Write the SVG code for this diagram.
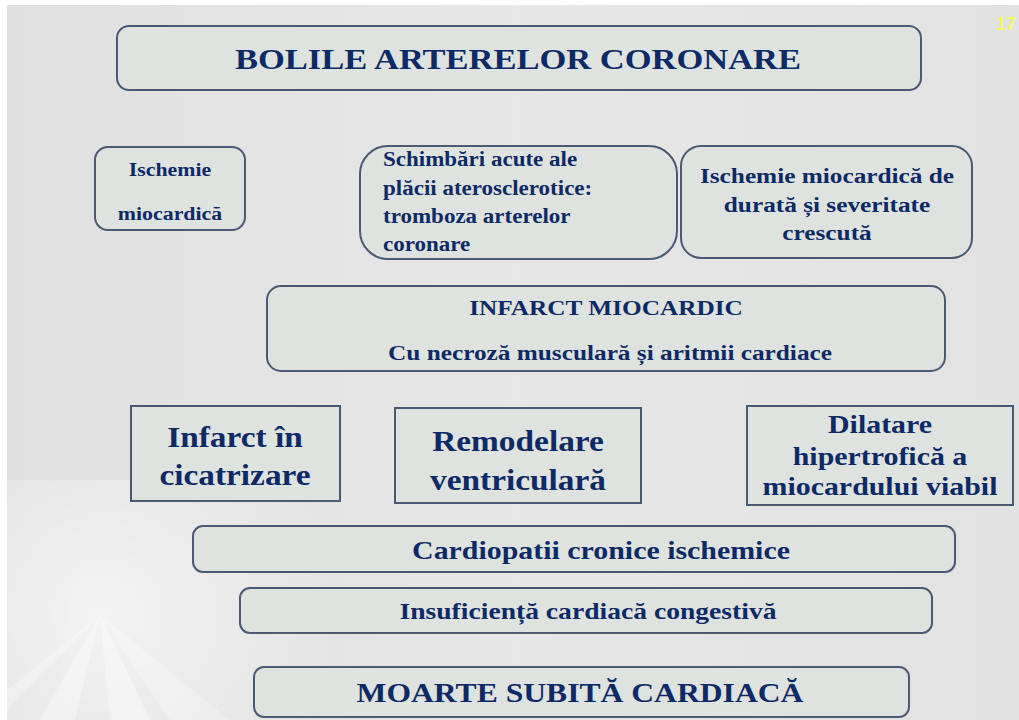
<svg xmlns="http://www.w3.org/2000/svg" width="1019" height="720" viewBox="0 0 1019 720">
<defs>
<style>
.box{fill:#dfe3df;stroke:#4b5876;stroke-width:2}
.t{font-family:"Liberation Serif","Times New Roman",serif;font-weight:bold;fill:#0d2a66;text-anchor:middle}
.tl{font-family:"Liberation Serif","Times New Roman",serif;font-weight:bold;fill:#0d2a66;text-anchor:start}
</style>
<linearGradient id="bg" x1="0" y1="0" x2="1" y2="0">
<stop offset="0" stop-color="#e0e0e0"/>
<stop offset="0.5" stop-color="#e7e7e7"/>
<stop offset="1" stop-color="#e2e2e2"/>
</linearGradient>
<radialGradient id="burst" cx="100" cy="615" r="240" gradientUnits="userSpaceOnUse">
<stop offset="0" stop-color="#ffffff" stop-opacity="0.6"/>
<stop offset="1" stop-color="#ffffff" stop-opacity="0"/>
</radialGradient>
</defs>
<rect x="0" y="0" width="1019" height="720" fill="#ffffff"/>
<rect x="7" y="5" width="1012" height="715" fill="url(#bg)"/>
<g opacity="0.55">
<polygon points="100,615 40,720 75,720" fill="#f4f4f4"/>
<polygon points="100,615 110,720 150,720" fill="#f6f6f6"/>
<polygon points="100,615 170,720 230,720" fill="#f0f0f0"/>
<polygon points="100,615 7,690 7,710" fill="#efefef"/>
</g>
<rect x="7" y="480" width="400" height="240" fill="url(#burst)"/>
<text x="1006" y="30" font-family="Liberation Sans, Arial, sans-serif" font-weight="bold" font-size="18" fill="#f8f860" text-anchor="middle">17</text>

<g id="title">
<rect class="box" x="117" y="26" width="804" height="64" rx="12"/>
<text class="t" transform="translate(518,69) scale(1.15,1)" font-size="30">BOLILE ARTERELOR CORONARE</text>
</g>
<g id="ischemie">
<rect class="box" x="95" y="147" width="150" height="83" rx="13"/>
<text class="t" transform="translate(170,176) scale(1.15,1)" font-size="19">Ischemie</text>
<text class="t" transform="translate(170,220) scale(1.15,1)" font-size="19">miocardică</text>
</g>
<g id="schimbari">
<rect class="box" x="360" y="146" width="317" height="113" rx="28"/>
<text class="tl" transform="translate(383,166) scale(1.15,1)" font-size="20">Schimbări acute ale</text>
<text class="tl" transform="translate(383,195) scale(1.15,1)" font-size="20">plăcii aterosclerotice:</text>
<text class="tl" transform="translate(383,223) scale(1.15,1)" font-size="20">tromboza arterelor</text>
<text class="tl" transform="translate(383,251) scale(1.15,1)" font-size="20">coronare</text>
</g>
<g id="ischemie-durata">
<rect class="box" x="681" y="146" width="291" height="112" rx="20"/>
<text class="t" transform="translate(827,183) scale(1.15,1)" font-size="22">Ischemie miocardică de</text>
<text class="t" transform="translate(827,212) scale(1.15,1)" font-size="22">durată și severitate</text>
<text class="t" transform="translate(827,240) scale(1.15,1)" font-size="22">crescută</text>
</g>
<g id="infarct">
<rect class="box" x="267" y="286" width="678" height="85" rx="14"/>
<text class="t" transform="translate(606,315) scale(1.15,1)" font-size="22">INFARCT MIOCARDIC</text>
<text class="t" transform="translate(610,360) scale(1.15,1)" font-size="22">Cu necroză musculară și aritmii cardiace</text>
</g>
<g id="cicatrizare">
<rect class="box" x="131" y="406" width="209" height="95"/>
<text class="t" transform="translate(235,447) scale(1.15,1)" font-size="29">Infarct în</text>
<text class="t" transform="translate(235,485) scale(1.15,1)" font-size="29">cicatrizare</text>
</g>
<g id="remodelare">
<rect class="box" x="395" y="408" width="246" height="95"/>
<text class="t" transform="translate(518,451) scale(1.15,1)" font-size="29">Remodelare</text>
<text class="t" transform="translate(518,490) scale(1.15,1)" font-size="29">ventriculară</text>
</g>
<g id="dilatare">
<rect class="box" x="747" y="406" width="266" height="99"/>
<text class="t" transform="translate(880,433) scale(1.15,1)" font-size="26">Dilatare</text>
<text class="t" transform="translate(880,465) scale(1.15,1)" font-size="26">hipertrofică a</text>
<text class="t" transform="translate(880,495) scale(1.15,1)" font-size="26">miocardului viabil</text>
</g>
<g id="cardiopatii">
<rect class="box" x="193" y="526" width="762" height="46" rx="10"/>
<text class="t" transform="translate(601,559) scale(1.15,1)" font-size="26">Cardiopatii cronice ischemice</text>
</g>
<g id="insuficienta">
<rect class="box" x="240" y="588" width="692" height="45" rx="10"/>
<text class="t" transform="translate(588,619) scale(1.15,1)" font-size="24">Insuficiență cardiacă congestivă</text>
</g>
<g id="moarte">
<rect class="box" x="254" y="667" width="655" height="50" rx="10"/>
<text class="t" transform="translate(580,702) scale(1.15,1)" font-size="27.5">MOARTE SUBITĂ CARDIACĂ</text>
</g>
<g id="connectors"></g>
</svg>
